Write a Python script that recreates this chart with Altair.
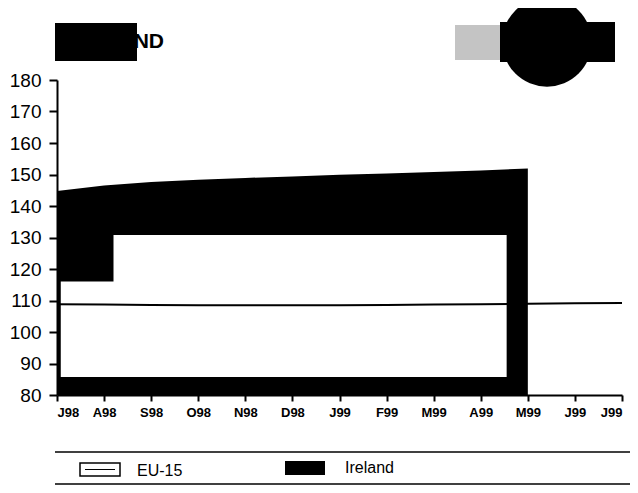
import json
import altair as alt
import pandas as pd

# ---- data ----
month_labels = ["J98", "A98", "S98", "O98", "N98", "D98", "J99", "F99", "M99", "A99", "M99", "J99", "J99"]
month_idx = list(range(len(month_labels)))
ireland = [144.8, 146.5, 147.6, 148.3, 148.9, 149.4, 149.9, 150.3, 150.8, 151.3, 151.9]
eu15 = [108.8, 108.7, 108.6, 108.5, 108.5, 108.5, 108.5, 108.6, 108.7, 108.8, 109.0, 109.1, 109.2]
y_ticks = [80, 90, 100, 110, 120, 130, 140, 150, 160, 170, 180]
# light (washed-out) inner region of the scanned Ireland area
wash_x0 = [0.08, 1.2]
wash_x1 = [1.25, 9.55]
wash_y0 = [85.7, 85.7]
wash_y1 = [116.0, 130.8]

Y_MIN, Y_MAX = 80, 180
W, H = 565, 315

ire_df = pd.DataFrame({"m": month_idx[:len(ireland)], "v": ireland, "base": [Y_MIN] * len(ireland)})
eu_df = pd.DataFrame({"m": month_idx, "v": eu15})
wash_df = pd.DataFrame({"x0": wash_x0, "x1": wash_x1, "y0": wash_y0, "y1": wash_y1})

label_expr = json.dumps(month_labels) + "[datum.value]"

xs = alt.Scale(domain=[0, 12], nice=False, zero=False)
ys = alt.Scale(domain=[Y_MIN, Y_MAX], nice=False, zero=False)

x_axis = alt.Axis(values=month_idx, labelExpr=label_expr, title=None, grid=False,
                  domainColor="black", domainWidth=2, tickColor="black", tickWidth=2, tickSize=6,
                  labelFont="Liberation Sans", labelFontSize=13, labelFontWeight="bold",
                  labelColor="black", labelPadding=5, labelOverlap=False)
y_axis = alt.Axis(values=y_ticks, title=None, grid=False,
                  domainColor="black", domainWidth=2, tickColor="black", tickWidth=2, tickSize=8,
                  labelFont="Liberation Sans", labelFontSize=19, labelColor="black", labelPadding=8,
                  labelOverlap=False, labelBound=False)

area = alt.Chart(ire_df).mark_area(color="black", interpolate="linear").encode(
    x=alt.X("m:Q", scale=xs, axis=x_axis),
    y=alt.Y("v:Q", scale=ys, axis=y_axis),
    y2="base:Q",
)

wash = alt.Chart(wash_df).mark_rect(color="white").encode(
    x=alt.X("x0:Q", scale=xs, axis=x_axis), x2="x1:Q",
    y=alt.Y("y0:Q", scale=ys, axis=y_axis), y2="y1:Q",
)

eu_line = alt.Chart(eu_df).mark_line(color="black", strokeWidth=2).encode(
    x=alt.X("m:Q", scale=xs, axis=x_axis),
    y=alt.Y("v:Q", scale=ys, axis=y_axis),
)

one = pd.DataFrame({"a": [0]})

def rect(x, x2, y, y2, **kw):
    return alt.Chart(one).mark_rect(**kw).encode(
        x=alt.value(x), x2=alt.value(x2), y=alt.value(y), y2=alt.value(y2))

def text(t, x, y, **kw):
    return alt.Chart(one).mark_text(text=t, **kw).encode(x=alt.value(x), y=alt.value(y))

def hrule(x, x2, y, **kw):
    return alt.Chart(one).mark_rule(**kw).encode(x=alt.value(x), x2=alt.value(x2), y=alt.value(y))

# title (partly blacked out in the original) and logo
title_txt = text("IRELAND", 107, -38, align="right", baseline="middle", font="Liberation Sans",
                 fontSize=21, fontWeight="bold", color="black")
title_box = rect(-2, 80, -57, -19, color="black")
logo_gray = rect(398, 445, -55, -20, color="#c4c4c4")
logo_bar = rect(443, 558, -58, -18, color="black")
logo_circle = alt.Chart(one).mark_point(shape="circle", filled=True, color="black", opacity=1,
                                         size=8000).encode(x=alt.value(490), y=alt.value(-38))

# legend
leg_top = hrule(-2, 575, 372, color="black", strokeWidth=1.5)
leg_bot = hrule(-2, 575, 404, color="black", strokeWidth=1.5)
eu_box = rect(23, 63, 383, 396, fill="white", stroke="black", strokeWidth=1.5)
eu_mark = hrule(28, 58, 389.5, color="black", strokeWidth=1)
eu_txt = text("EU-15", 80, 391, align="left", baseline="middle", font="Liberation Sans",
              fontSize=16, color="black")
ie_box = rect(228, 268, 381, 395, color="black")
ie_txt = text("Ireland", 288, 388, align="left", baseline="middle", font="Liberation Sans",
              fontSize=16, color="black")

chart = alt.layer(
    area, wash, eu_line,
    title_box, title_txt, logo_gray, logo_circle, logo_bar,
    leg_top, leg_bot, eu_box, eu_mark, eu_txt, ie_box, ie_txt,
).properties(
    width=W, height=H,
    autosize=alt.AutoSizeParams(type="none"),
    padding={"left": 49, "top": 72, "right": 8, "bottom": 90},
    background="white",
).configure_view(stroke=None).configure_axisY(labelOverlap=False)

chart.save("out.html", embed_options={"renderer": "svg", "actions": False})
